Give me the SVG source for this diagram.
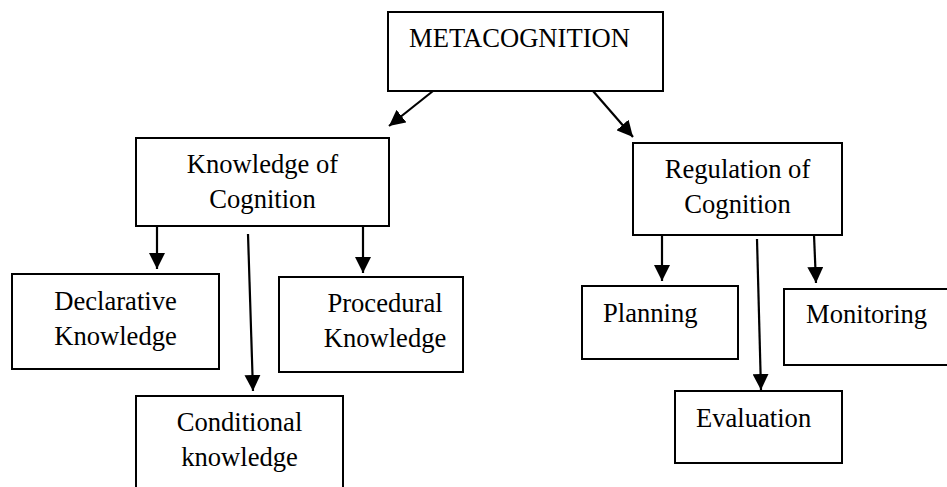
<svg xmlns="http://www.w3.org/2000/svg" width="947" height="487" viewBox="0 0 947 487">
<defs>
<marker id="ah" markerUnits="userSpaceOnUse" markerWidth="18" markerHeight="16" refX="16" refY="8" orient="auto">
<path d="M0,0 L16,8 L0,16 z" fill="#000"/>
</marker>
<style>
.box{fill:#fff;stroke:#000;stroke-width:2}
text{font-family:'Liberation Serif','Times New Roman','DejaVu Serif',serif;font-size:26.6px;fill:#000}
.c{text-anchor:middle}
.ln{stroke:#000;stroke-width:2.2;fill:none;marker-end:url(#ah)}
</style>
</defs>
<rect width="947" height="487" fill="#fff"/>
<g font-family="Liberation Serif, serif">
<g id="metacognition">
<rect class="box" x="388" y="12" width="275" height="79"/>
<text x="409" y="47">METACOGNITION</text>
</g>
<g id="knowledge">
<rect class="box" x="136" y="138" width="253" height="88"/>
<text class="c" x="262.5" y="173">Knowledge of</text>
<text class="c" x="262.5" y="208">Cognition</text>
</g>
<g id="regulation">
<rect class="box" x="633" y="143" width="209" height="92"/>
<text class="c" x="737.5" y="178">Regulation of</text>
<text class="c" x="737.5" y="213">Cognition</text>
</g>
<g id="declarative">
<rect class="box" x="12" y="274" width="207" height="95"/>
<text class="c" x="115.5" y="310">Declarative</text>
<text class="c" x="115.5" y="345">Knowledge</text>
</g>
<g id="procedural">
<rect class="box" x="279" y="277" width="184" height="95"/>
<text class="c" x="385" y="312">Procedural</text>
<text class="c" x="385" y="347">Knowledge</text>
</g>
<g id="conditional">
<rect class="box" x="136" y="396" width="207" height="100"/>
<text class="c" x="239.5" y="431">Conditional</text>
<text class="c" x="239.5" y="466">knowledge</text>
</g>
<g id="planning">
<rect class="box" x="582" y="286" width="156" height="73"/>
<text x="603" y="322">Planning</text>
</g>
<g id="monitoring">
<rect class="box" x="784" y="289" width="175" height="76"/>
<text x="806" y="323">Monitoring</text>
</g>
<g id="evaluation">
<rect class="box" x="675" y="391" width="167" height="72"/>
<text x="696" y="427">Evaluation</text>
</g>
</g>
<g id="connectors">
<line class="ln" x1="433" y1="91" x2="389" y2="126"/>
<line class="ln" x1="593" y1="91" x2="633" y2="137"/>
<line class="ln" x1="157" y1="226" x2="157" y2="269"/>
<line class="ln" x1="363" y1="226" x2="363" y2="273"/>
<line class="ln" x1="248" y1="234" x2="253" y2="391"/>
<line class="ln" x1="662" y1="235" x2="662" y2="281"/>
<line class="ln" x1="814" y1="235" x2="816" y2="283"/>
<line class="ln" x1="757" y1="239" x2="761" y2="390"/>
</g>
</svg>
